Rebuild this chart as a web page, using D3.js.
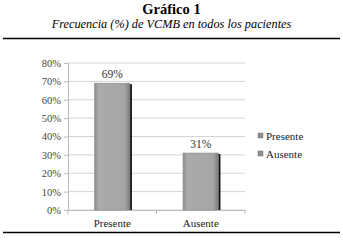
<!DOCTYPE html>
<html>
<head>
<meta charset="utf-8">
<script src="https://cdn.jsdelivr.net/npm/d3@7"></script>
<style>
  body { margin: 0; background: #fff; }
</style>
</head>
<body>
<svg id="chart"></svg>
<script>
// data
const categories = ["Presente", "Ausente"];
const values = [69, 31];
const yTicks = [0, 10, 20, 30, 40, 50, 60, 70, 80];

const serif = "'Liberation Serif', 'Times New Roman', Times, 'DejaVu Serif', serif";
const width = 343, height = 245;
const margin = { top: 63, left: 68, right: 98, bottom: 35 };
const innerW = width - margin.left - margin.right;
const innerH = height - margin.top - margin.bottom;

const svg = d3.select("#chart").attr("width", width).attr("height", height);

// gradient for bars
const defs = svg.append("defs");
const grad = defs.append("linearGradient").attr("id", "barGrad")
  .attr("x1", "0%").attr("x2", "100%").attr("y1", "0%").attr("y2", "0%");
grad.append("stop").attr("offset", "0%").attr("stop-color", "#8c8c8c");
grad.append("stop").attr("offset", "12%").attr("stop-color", "#ababab");
grad.append("stop").attr("offset", "85%").attr("stop-color", "#a5a5a5");
grad.append("stop").attr("offset", "100%").attr("stop-color", "#7a7a7a");

// title
svg.append("text")
  .attr("x", width / 2).attr("y", 14)
  .attr("text-anchor", "middle")
  .style("font-weight", "bold").style("font-size", "14.5px")
  .text("Gráfico 1");
svg.append("text")
  .attr("x", width / 2).attr("y", 28)
  .attr("text-anchor", "middle")
  .style("font-style", "italic").style("font-size", "12.3px")
  .text("Frecuencia (%) de VCMB en todos los pacientes");

svg.append("line").attr("x1", 3).attr("x2", 340).attr("y1", 38.5).attr("y2", 38.5)
  .attr("stroke", "#000").attr("stroke-width", 1.3);
svg.append("line").attr("x1", 3).attr("x2", 340).attr("y1", 232.5).attr("y2", 232.5)
  .attr("stroke", "#000").attr("stroke-width", 1.3);

const chart = svg.append("g").attr("transform", `translate(${margin.left},${margin.top})`);

const x = d3.scaleBand().domain(categories).range([0, innerW]).paddingInner(0.6).paddingOuter(0.3);
const y = d3.scaleLinear().domain([0, 80]).range([innerH, 0]);

// gridlines
chart.selectAll(".grid").data(yTicks).join("line")
  .attr("class", "grid")
  .attr("x1", 0).attr("x2", innerW)
  .attr("y1", d => y(d)).attr("y2", d => y(d))
  .attr("stroke", "#d4d4d4").attr("stroke-width", 1);

// y axis
const yAxis = chart.append("g")
  .call(d3.axisLeft(y).tickValues(yTicks).tickFormat(d => d + "%").tickSize(4).tickPadding(3));
yAxis.select(".domain").attr("stroke", "#bbb");
yAxis.selectAll(".tick line").attr("stroke", "#bbb");
yAxis.selectAll("text").style("font-size", "10.5px").attr("fill", "#444");

// x axis
const xAxis = chart.append("g").attr("transform", `translate(0,${innerH})`)
  .call(d3.axisBottom(x).tickSize(0).tickPadding(9));
xAxis.select(".domain").attr("stroke", "#bbb");
xAxis.selectAll("text").style("font-size", "11px").attr("fill", "#222");
// separators between categories
const step = x.step();
const x0 = x(categories[0]) - x.paddingOuter() * step;
chart.selectAll(".sep").data(d3.range(categories.length + 1)).join("line")
  .attr("class", "sep")
  .attr("x1", i => x0 + i * step)
  .attr("x2", i => x0 + i * step)
  .attr("y1", innerH).attr("y2", innerH + 4)
  .attr("stroke", "#bbb");

// bar shadows
chart.selectAll(".shadow").data(values).join("rect")
  .attr("class", "shadow")
  .attr("x", (d, i) => x(categories[i]) + 2)
  .attr("y", d => y(d) + 1)
  .attr("width", x.bandwidth())
  .attr("height", d => innerH - y(d) - 1)
  .attr("fill", "#111");

// bars
chart.selectAll(".bar").data(values).join("rect")
  .attr("class", "bar")
  .attr("x", (d, i) => x(categories[i]))
  .attr("y", d => y(d))
  .attr("width", x.bandwidth())
  .attr("height", d => innerH - y(d))
  .attr("fill", "url(#barGrad)")
  .attr("stroke", "#8a8a8a").attr("stroke-width", 0.6);

// value labels
chart.selectAll(".lbl").data(values).join("text")
  .attr("class", "lbl")
  .attr("x", (d, i) => x(categories[i]) + x.bandwidth() / 2)
  .attr("y", d => y(d) - 5)
  .attr("text-anchor", "middle")
  .style("font-size", "11.5px").attr("fill", "#333")
  .text(d => d + "%");

// legend
const legend = svg.append("g").attr("transform", "translate(258,133)");
categories.forEach((c, i) => {
  const g = legend.append("g").attr("transform", `translate(0,${i * 18})`);
  g.append("rect").attr("x", 0).attr("y", 0).attr("width", 5).attr("height", 5)
    .attr("fill", "#8f8f8f").attr("stroke", "#777").attr("stroke-width", 0.5);
  g.append("text").attr("x", 8).attr("y", 7)
    .style("font-size", "11px").attr("fill", "#222")
    .text(c);
});

// serif everywhere, like the original
svg.selectAll("text").style("font-family", serif);
</script>
</body>
</html>
